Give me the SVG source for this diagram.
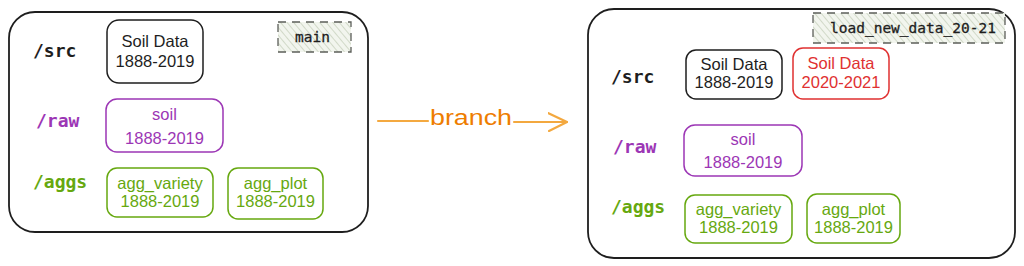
<svg xmlns="http://www.w3.org/2000/svg" width="1024" height="266" viewBox="0 0 1024 266">
<defs>
<pattern id="hatch" patternUnits="userSpaceOnUse" width="5" height="5" patternTransform="rotate(-40)">
<rect width="5" height="5" fill="#f2f5ee"/>
<line x1="0" y1="0" x2="0" y2="5" stroke="#c3cdb8" stroke-width="1.4"/>
</pattern>
<marker id="ah" viewBox="0 0 20 20" refX="19" refY="10" markerWidth="20" markerHeight="20" markerUnits="userSpaceOnUse" orient="auto">
<path d="M0 1 L19 10 L1 19" fill="none" stroke="#f08c00" stroke-width="2.2" stroke-linecap="round" stroke-linejoin="round"/>
</marker>
<style>
.cont{fill:#ffffff;stroke:#1e1e1e;stroke-width:1.8}
.box{fill:#ffffff;stroke-width:1.5}
.tag{fill:url(#hatch);stroke:#5c5f5a;stroke-width:1.3;stroke-dasharray:8 6}
.dir{font-family:"DejaVu Sans Mono","Liberation Mono",monospace;font-size:18px;font-weight:bold}
.mono{font-family:"DejaVu Sans Mono","Liberation Mono",monospace;font-size:14.5px;fill:#1e1e1e;stroke:#1e1e1e;stroke-width:0.3}
.hand{font-family:"Liberation Sans","DejaVu Sans",sans-serif;font-size:16.5px;text-anchor:middle}
.k{stroke:#1e1e1e}.kt{fill:#1e1e1e}
.p{stroke:#9c36b5}.pt{fill:#9c36b5}
.g{stroke:#66a80f}.gt{fill:#66a80f}
.r{stroke:#e03131}.rt{fill:#e03131}
</style>
</defs>
<rect width="1024" height="266" fill="#ffffff"/>

<g id="main-branch">
<rect class="cont" x="9" y="12" width="359" height="220" rx="26"/>
<text class="dir kt" x="33" y="57">/src</text>
<text class="dir pt" x="36" y="127">/raw</text>
<text class="dir gt" x="33" y="188">/aggs</text>
</g>
<g id="main-tag">
<rect class="tag" x="278" y="22" width="73" height="30"/>
<text class="mono" x="295" y="42">main</text>
</g>
<g id="main-src-soil">
<rect class="box k" x="107" y="20" width="96" height="63" rx="12"/>
<text class="hand kt" x="155" y="47">Soil Data</text>
<text class="hand kt" x="155" y="67">1888-2019</text>
</g>
<g id="main-raw-soil">
<rect class="box p" x="106" y="99" width="117" height="53" rx="11"/>
<text class="hand pt" x="164.5" y="120">soil</text>
<text class="hand pt" x="164.5" y="144">1888-2019</text>
</g>
<g id="main-agg-variety">
<rect class="box g" x="107" y="168" width="106" height="49" rx="10"/>
<text class="hand gt" x="160" y="189">agg_variety</text>
<text class="hand gt" x="160" y="207">1888-2019</text>
</g>
<g id="main-agg-plot">
<rect class="box g" x="228" y="168" width="95" height="51" rx="10"/>
<text class="hand gt" x="275.5" y="189">agg_plot</text>
<text class="hand gt" x="275.5" y="207">1888-2019</text>
</g>

<g id="new-branch">
<rect class="cont" x="588" y="9" width="427" height="249" rx="26"/>
<text class="dir kt" x="611" y="83">/src</text>
<text class="dir pt" x="613" y="153">/raw</text>
<text class="dir gt" x="611" y="213">/aggs</text>
</g>
<g id="new-tag">
<rect class="tag" x="813" y="13" width="192" height="30"/>
<text class="mono" x="830" y="33">load_new_data_20-21</text>
</g>
<g id="new-src-soil-old">
<rect class="box k" x="686" y="50" width="96" height="49" rx="10"/>
<text class="hand kt" x="734" y="70">Soil Data</text>
<text class="hand kt" x="734" y="88">1888-2019</text>
</g>
<g id="new-src-soil-new">
<rect class="box r" x="793" y="48" width="96" height="51" rx="10"/>
<text class="hand rt" x="841" y="69">Soil Data</text>
<text class="hand rt" x="841" y="88">2020-2021</text>
</g>
<g id="new-raw-soil">
<rect class="box p" x="684" y="125" width="118" height="51" rx="11"/>
<text class="hand pt" x="743" y="145">soil</text>
<text class="hand pt" x="743" y="168">1888-2019</text>
</g>
<g id="new-agg-variety">
<rect class="box g" x="685" y="195" width="107" height="48" rx="10"/>
<text class="hand gt" x="738.5" y="215">agg_variety</text>
<text class="hand gt" x="738.5" y="233">1888-2019</text>
</g>
<g id="new-agg-plot">
<rect class="box g" x="807" y="194" width="93" height="49" rx="10"/>
<text class="hand gt" x="853.5" y="215">agg_plot</text>
<text class="hand gt" x="853.5" y="233">1888-2019</text>
</g>

<g id="connectors">
<path d="M378 121 L428 121" fill="none" stroke="#f08c00" stroke-width="2.2" opacity="0.75" stroke-linecap="round"/>
<path d="M514 122 L567 122" fill="none" stroke="#f08c00" stroke-width="2.2" opacity="0.75" stroke-linecap="round" marker-end="url(#ah)"/>
<text x="471" y="125" text-anchor="middle" font-family="Liberation Sans, DejaVu Sans, sans-serif" font-size="22" fill="#ee7d00" textLength="82" lengthAdjust="spacingAndGlyphs">branch</text>
</g>
</svg>
